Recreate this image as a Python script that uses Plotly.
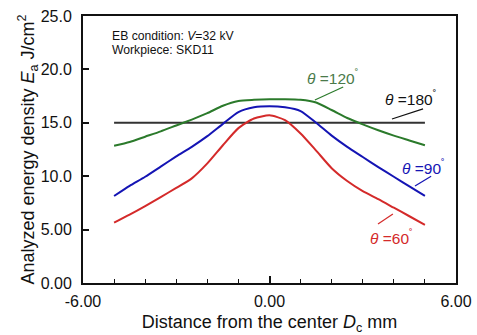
import plotly.graph_objects as go

# ---- data ----
distance = [-5.0, -4.5, -4.0, -3.5, -3.0, -2.5, -2.0, -1.5, -1.0, -0.5, 0.0,
            0.5, 1.0, 1.5, 2.0, 2.5, 3.0, 3.5, 4.0, 4.5, 5.0]
e_120 = [12.85, 13.2, 13.7, 14.2, 14.75, 15.3, 15.9, 16.6, 17.05, 17.15, 17.2,
         17.2, 17.15, 16.9, 16.2, 15.45, 14.85, 14.3, 13.8, 13.35, 12.9]
e_90 = [8.15, 9.1, 9.95, 10.9, 11.85, 12.75, 13.75, 14.9, 16.0, 16.45, 16.55,
        16.45, 16.1, 15.0, 13.8, 12.75, 11.8, 10.85, 9.95, 9.05, 8.15]
e_60 = [5.65, 6.4, 7.2, 8.05, 8.9, 9.8, 11.2, 12.9, 14.5, 15.4, 15.7,
        15.25, 14.0, 12.4, 10.75, 9.55, 8.6, 7.85, 7.05, 6.25, 5.45]
e_180 = [15.0] * len(distance)

x_tickvals = [-6, 0, 6]
x_ticktext = ["-6.00", "0.00", "6.00"]
y_tickvals = [0, 5, 10, 15, 20, 25]
y_ticktext = ["0.00", "5.00", "10.0", "15.0", "20.0", "25.0"]

C_GREEN = "#2b7a2b"
C_BLUE = "#1414b4"
C_RED = "#d42a2a"
C_BLACK = "#333333"

FONT = "Arial, Liberation Sans, sans-serif"

fig = go.Figure()
for ys, col, name in [(e_180, C_BLACK, "180"), (e_120, C_GREEN, "120"),
                      (e_90, C_BLUE, "90"), (e_60, C_RED, "60")]:
    fig.add_trace(go.Scatter(x=distance, y=ys, mode="lines", name=name,
                             line=dict(color=col, width=2, shape="spline", smoothing=0.6),
                             showlegend=False))

# labels with leader lines
labels = [
    ("<i>θ</i> =120<sup>˚</sup>", "#4a7a4a", 2.04, 19.3, (1.46, 17.13, 2.37, 18.35), C_GREEN),
    ("<i>θ</i> =180<sup>˚</sup>", "#111111", 4.52, 17.3, (3.94, 15.36, 4.94, 16.3), "#111111"),
    ("<i>θ</i> =90<sup>˚</sup>", C_BLUE, 4.96, 10.86, (4.68, 9.08, 5.2, 10.0), C_BLUE),
    ("<i>θ</i> =60<sup>˚</sup>", C_RED, 3.93, 4.31, (3.49, 5.52, 3.97, 6.46), C_RED),
]
for txt, tcol, tx, ty, (x0, y0, x1, y1), lcol in labels:
    fig.add_annotation(x=tx, y=ty, text=txt, showarrow=False,
                       font=dict(family=FONT, size=15.5, color=tcol))
    fig.add_shape(type="line", x0=x0, y0=y0, x1=x1, y1=y1,
                  line=dict(color=lcol, width=1.2))

for txt, yp in [("EB condition: <i>V</i>=32 kV", 0.926), ("Workpiece: SKD11", 0.874)]:
    fig.add_annotation(xref="paper", yref="paper", x=0.073, y=yp,
                       xanchor="left", yanchor="middle",
                       text=txt, showarrow=False,
                       font=dict(family=FONT, size=12.2, color="#111111"))

fig.update_layout(
    width=477, height=335,
    margin=dict(l=83, r=21, t=16, b=52),
    paper_bgcolor="white", plot_bgcolor="white",
    font=dict(family=FONT, color="#111111"),
    xaxis=dict(range=[-6, 6], tickmode="array", tickvals=x_tickvals, ticktext=x_ticktext,
               ticks="inside", ticklen=7, tickwidth=1.5, tickcolor="#111111",
               minor=dict(dtick=1, tick0=0, ticks="inside", ticklen=4,
                          tickwidth=1.2, tickcolor="#111111", showgrid=False),
               showline=True, linecolor="#111111", linewidth=2, mirror=True,
               showgrid=False, zeroline=False, ticklabelstandoff=3, automargin=False,
               tickfont=dict(size=16, family=FONT),
               title=dict(text="Distance from the center <i>D</i><sub>c</sub> mm",
                          font=dict(size=18, family=FONT), standoff=10)),
    yaxis=dict(range=[0, 25], tickmode="array", tickvals=y_tickvals, ticktext=y_ticktext,
               ticks="inside", ticklen=6, tickwidth=1.5, tickcolor="#111111",
               showline=True, linecolor="#111111", linewidth=2, mirror=True,
               showgrid=False, zeroline=False, ticklabelstandoff=6, automargin=False,
               tickfont=dict(size=16, family=FONT),
               title=dict(text="Analyzed energy density <i>E</i><sub>a</sub> J/cm<sup>2</sup>",
                          font=dict(size=18, family=FONT), standoff=1)),
)

fig.write_html("out.html")
